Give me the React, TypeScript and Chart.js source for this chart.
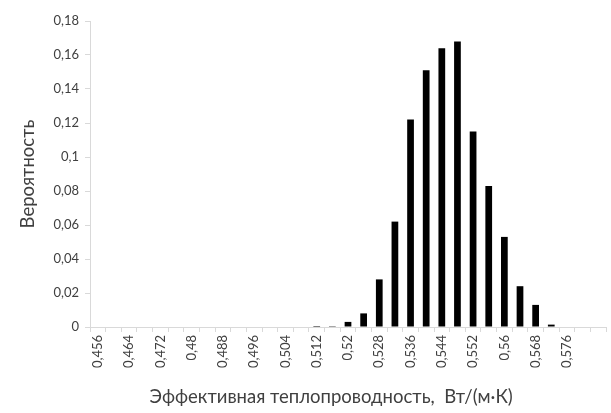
import React, { useEffect, useRef } from "react";
import { Chart, registerables } from "chart.js";

Chart.register(...registerables);

const categories: number[] = [
  0.456, 0.46, 0.464, 0.468, 0.472, 0.476, 0.48, 0.484, 0.488, 0.492, 0.496,
  0.5, 0.504, 0.508, 0.512, 0.516, 0.52, 0.524, 0.528, 0.532, 0.536, 0.54,
  0.544, 0.548, 0.552, 0.556, 0.56, 0.564, 0.568, 0.572, 0.576, 0.58, 0.584,
];

const probabilities: number[] = [
  0, 0, 0, 0, 0, 0, 0, 0, 0, 0, 0, 0, 0, 0, 0.0006, 0.0005, 0.003, 0.008,
  0.028, 0.062, 0.122, 0.151, 0.164, 0.168, 0.115, 0.083, 0.053, 0.024, 0.013,
  0.0014, 0, 0, 0,
];

const xTickLabels: string[] = [
  "0,456", "0,464", "0,472", "0,48", "0,488", "0,496", "0,504", "0,512",
  "0,52", "0,528", "0,536", "0,544", "0,552", "0,56", "0,568", "0,576",
];

const yTicks: number[] = [0, 0.02, 0.04, 0.06, 0.08, 0.1, 0.12, 0.14, 0.16, 0.18];

const xTitle = "Эффективная теплопроводность,  Вт/(м·К)";
const yTitle = "Вероятность";

const fmt = (v: number) => String(Number(v.toFixed(4))).replace(".", ",");

const FONT = "Lato, 'Open Sans', sans-serif";
const TEXT = "#404040";

const xTitlePlugin = {
  id: "xTitleCentered",
  afterDraw(chart: any) {
    const ctx = chart.ctx;
    ctx.save();
    ctx.font = `18.5px ${FONT}`;
    ctx.fillStyle = TEXT;
    ctx.textAlign = "center";
    ctx.textBaseline = "middle";
    ctx.fillText(xTitle, chart.width * 0.542, chart.height - 16);
    ctx.restore();
  },
};

export default function App() {
  const ref = useRef<HTMLCanvasElement | null>(null);
  useEffect(() => {
    if (!ref.current) return;
    const chart = new Chart(ref.current, {
      type: "bar",
      data: {
        labels: categories.map(fmt),
        datasets: [
          {
            data: probabilities,
            backgroundColor: "#000000",
            barPercentage: 0.43,
            categoryPercentage: 1,
          },
        ],
      },
      plugins: [xTitlePlugin],
      options: {
        animation: false,
        responsive: false,
        maintainAspectRatio: false,
        layout: { padding: { left: 0, right: 5, top: 21, bottom: 0 } },
        plugins: { legend: { display: false }, tooltip: { enabled: false } },
        scales: {
          x: {
            grid: {
              drawOnChartArea: false,
              drawTicks: true,
              tickLength: 5,
              color: "#d9d9d9",
              offset: true,
            },
            border: { color: "#d9d9d9" },
            ticks: {
              autoSkip: false,
              minRotation: 90,
              maxRotation: 90,
              color: TEXT,
              font: { family: FONT, size: 13 },
              padding: 3,
              callback: (_v: any, i: number) =>
                i % 2 === 0 && i / 2 < xTickLabels.length ? xTickLabels[i / 2] : "",
            },
            afterFit: (s: any) => {
              s.height = 86;
              s.paddingRight = 0;
              s.paddingLeft = 0;
            },
          },
          y: {
            min: 0,
            max: 0.18,
            afterBuildTicks: (s: any) => {
              s.ticks = yTicks.map((v) => ({ value: v }));
            },
            grid: {
              drawOnChartArea: false,
              drawTicks: true,
              tickLength: 5,
              color: "#d9d9d9",
            },
            border: { color: "#d9d9d9" },
            ticks: {
              color: TEXT,
              font: { family: FONT, size: 13 },
              padding: 6,
              callback: (v: any) => fmt(Number(v)),
            },
            title: {
              display: true,
              text: yTitle,
              color: TEXT,
              font: { family: FONT, size: 18.5 },
              padding: { top: 17, bottom: 0 },
            },
            afterFit: (s: any) => {
              s.width = 90;
            },
          },
        },
      },
    });
    return () => chart.destroy();
  }, []);
  return (
    <div style={{ position: "absolute", left: 0, top: 0, width: 611, height: 413, background: "#fff" }}>
      <canvas ref={ref} width={611} height={413} style={{ width: 611, height: 413 }} />
    </div>
  );
}
